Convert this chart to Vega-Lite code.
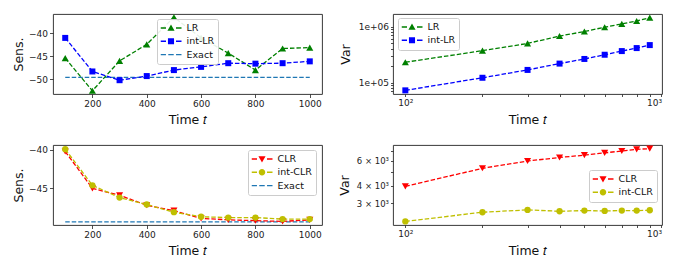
{
  "$schema": "https://vega.github.io/schema/vega-lite/v6.json",
  "background": "white",
  "padding": {"left": 11, "top": 13, "right": 5, "bottom": 5},
  "config": {
    "font": "DejaVu Sans",
    "view": {"stroke": "#222", "strokeWidth": 0.9},
    "axis": {"grid": false, "domain": false, "tickColor": "#222", "tickSize": 3.5, "tickWidth": 0.8, "labelFontSize": 9, "labelColor": "#222", "labelPadding": 2, "titleFontSize": 12.5, "titleFontWeight": "normal", "titleColor": "#111", "labelFont": "DejaVu Sans", "titleFont": "DejaVu Sans"},
    "legend": {"labelFontSize": 9.5, "labelColor": "#111", "labelFont": "DejaVu Sans", "padding": 3.5, "rowPadding": 2.3, "clipHeight": 11, "fillColor": "rgba(255,255,255,0.9)", "strokeColor": "#cccccc", "cornerRadius": 2, "symbolSize": 441, "symbolStrokeWidth": 0, "symbolOpacity": 1, "labelOffset": 5},
    "line": {"strokeDash": [4.5, 2], "strokeWidth": 1.3},
    "point": {"filled": true, "opacity": 1}
  },
  "datasets": {
    "sens1": [
      {"t": 100, "series": "LR", "value": -45.4}, {"t": 200, "series": "LR", "value": -52.5}, {"t": 300, "series": "LR", "value": -46.0}, {"t": 400, "series": "LR", "value": -42.4}, {"t": 500, "series": "LR", "value": -36.5}, {"t": 600, "series": "LR", "value": -41.0}, {"t": 700, "series": "LR", "value": -44.3}, {"t": 800, "series": "LR", "value": -48.0}, {"t": 900, "series": "LR", "value": -43.3}, {"t": 1000, "series": "LR", "value": -43.1},
      {"t": 100, "series": "int-LR", "value": -41.0}, {"t": 200, "series": "int-LR", "value": -48.3}, {"t": 300, "series": "int-LR", "value": -50.2}, {"t": 400, "series": "int-LR", "value": -49.3}, {"t": 500, "series": "int-LR", "value": -48.0}, {"t": 600, "series": "int-LR", "value": -47.3}, {"t": 700, "series": "int-LR", "value": -46.5}, {"t": 800, "series": "int-LR", "value": -46.6}, {"t": 900, "series": "int-LR", "value": -46.5}, {"t": 1000, "series": "int-LR", "value": -46.1},
      {"t": 100, "series": "Exact", "value": -49.6}, {"t": 1000, "series": "Exact", "value": -49.6}
    ],
    "var1": [
      {"t": 100, "series": "LR", "value": 231700}, {"t": 200, "series": "LR", "value": 372000}, {"t": 300, "series": "LR", "value": 501000}, {"t": 400, "series": "LR", "value": 678000}, {"t": 500, "series": "LR", "value": 816000}, {"t": 600, "series": "LR", "value": 975000}, {"t": 700, "series": "LR", "value": 1116000}, {"t": 800, "series": "LR", "value": 1260000}, {"t": 900, "series": "LR", "value": 1440000},
      {"t": 100, "series": "int-LR", "value": 73100}, {"t": 200, "series": "int-LR", "value": 122500}, {"t": 300, "series": "int-LR", "value": 169000}, {"t": 400, "series": "int-LR", "value": 219000}, {"t": 500, "series": "int-LR", "value": 265000}, {"t": 600, "series": "int-LR", "value": 315000}, {"t": 700, "series": "int-LR", "value": 366000}, {"t": 800, "series": "int-LR", "value": 414000}, {"t": 900, "series": "int-LR", "value": 468000}
    ],
    "sens2": [
      {"t": 100, "series": "CLR", "value": -40.2}, {"t": 200, "series": "CLR", "value": -45.0}, {"t": 300, "series": "CLR", "value": -45.9}, {"t": 400, "series": "CLR", "value": -47.2}, {"t": 500, "series": "CLR", "value": -47.9}, {"t": 600, "series": "CLR", "value": -48.9}, {"t": 700, "series": "CLR", "value": -49.1}, {"t": 800, "series": "CLR", "value": -49.2}, {"t": 900, "series": "CLR", "value": -49.3}, {"t": 1000, "series": "CLR", "value": -49.1},
      {"t": 100, "series": "int-CLR", "value": -39.9}, {"t": 200, "series": "int-CLR", "value": -44.6}, {"t": 300, "series": "int-CLR", "value": -46.2}, {"t": 400, "series": "int-CLR", "value": -47.1}, {"t": 500, "series": "int-CLR", "value": -48.1}, {"t": 600, "series": "int-CLR", "value": -48.7}, {"t": 700, "series": "int-CLR", "value": -48.8}, {"t": 800, "series": "int-CLR", "value": -48.8}, {"t": 900, "series": "int-CLR", "value": -49.0}, {"t": 1000, "series": "int-CLR", "value": -49.0},
      {"t": 100, "series": "Exact", "value": -49.35}, {"t": 1000, "series": "Exact", "value": -49.35}
    ],
    "var2": [
      {"t": 100, "series": "CLR", "value": 3955}, {"t": 200, "series": "CLR", "value": 5305}, {"t": 300, "series": "CLR", "value": 5970}, {"t": 400, "series": "CLR", "value": 6325}, {"t": 500, "series": "CLR", "value": 6565}, {"t": 600, "series": "CLR", "value": 6815}, {"t": 700, "series": "CLR", "value": 7030}, {"t": 800, "series": "CLR", "value": 7220}, {"t": 900, "series": "CLR", "value": 7300},
      {"t": 100, "series": "int-CLR", "value": 2240}, {"t": 200, "series": "int-CLR", "value": 2600}, {"t": 300, "series": "int-CLR", "value": 2700}, {"t": 400, "series": "int-CLR", "value": 2640}, {"t": 500, "series": "int-CLR", "value": 2670}, {"t": 600, "series": "int-CLR", "value": 2655}, {"t": 700, "series": "int-CLR", "value": 2670}, {"t": 800, "series": "int-CLR", "value": 2670}, {"t": 900, "series": "int-CLR", "value": 2685}
    ]
  },
  "columns": 2,
  "spacing": {"row": 51, "column": 71},
  "bounds": "flush",
  "resolve": {"scale": {"color": "independent", "shape": "independent"}, "legend": {"color": "independent", "shape": "independent"}},
  "concat": [
    {
      "width": 269, "height": 80,
      "data": {"name": "sens1"},
      "encoding": {
        "x": {"field": "t", "type": "quantitative", "scale": {"domain": [55, 1045], "nice": false, "zero": false}, "axis": {"values": [200, 400, 600, 800, 1000], "format": "d", "title": "Time 𝑡", "titleX": 134.5, "titleY": 25, "titleBaseline": "middle"}},
        "y": {"field": "value", "type": "quantitative", "scale": {"domain": [-53.2, -35.8], "nice": false, "zero": false}, "axis": {"values": [-50, -45, -40], "title": "Sens.", "titleX": -35, "titleY": 40, "titleBaseline": "middle"}}
      },
      "layer": [
        {"transform": [{"filter": "datum.series == 'Exact'"}], "mark": {"type": "line", "color": "#1f77b4"}},
        {"transform": [{"filter": "datum.series == 'LR'"}], "mark": {"type": "line", "color": "green"}},
        {"transform": [{"filter": "datum.series == 'int-LR'"}], "mark": {"type": "line", "color": "blue"}},
        {"transform": [{"filter": "datum.series == 'LR'"}], "mark": {"type": "point", "shape": "triangle-up", "size": 50, "color": "green"}},
        {"transform": [{"filter": "datum.series == 'int-LR'"}], "mark": {"type": "point", "shape": "square", "size": 36, "color": "blue"}},
        {"transform": [{"filter": "datum.t < 0"}], "mark": {"type": "point"},
         "encoding": {
           "color": {"field": "series", "type": "nominal", "scale": {"domain": ["LR", "int-LR", "Exact"], "range": ["green", "blue", "#1f77b4"]}, "legend": {"orient": "none", "legendX": 104, "legendY": 5, "title": null}},
           "shape": {"field": "series", "type": "nominal", "scale": {"domain": ["LR", "int-LR", "Exact"], "range": ["M-1,-0.065H-0.476V0.065H-1Z M0.476,-0.065H1V0.065H0.476Z M0,-0.33L0.34,0.26L-0.34,0.26Z", "M-1,-0.065H-0.476V0.065H-1Z M0.476,-0.065H1V0.065H0.476Z M-0.29,-0.29H0.29V0.29H-0.29Z", "M-1,-0.065H-0.48V0.065H-1Z M-0.26,-0.065H0.26V0.065H-0.26Z M0.48,-0.065H1V0.065H0.48Z"]}, "legend": {"orient": "none", "legendX": 104, "legendY": 5, "title": null}}
         }}
      ]
    },
    {
      "width": 269, "height": 80,
      "data": {"name": "var1"},
      "encoding": {
        "x": {"field": "t", "type": "quantitative", "scale": {"type": "log", "domain": [89.5, 1004.6], "nice": false}, "axis": {"values": [100, 200, 300, 400, 500, 600, 700, 800, 900, 1000], "labelExpr": "datum.value == 100 ? '10²' : datum.value == 1000 ? '10³' : ''", "tickSize": 2.5, "title": "Time 𝑡", "titleX": 134.5, "titleY": 25, "titleBaseline": "middle"}},
        "y": {"field": "value", "type": "quantitative", "scale": {"type": "log", "domain": [62950, 1675000], "nice": false}, "axis": {"values": [70000, 80000, 90000, 100000, 200000, 300000, 400000, 500000, 600000, 700000, 800000, 900000, 1000000], "labelExpr": "datum.value == 100000 ? '1e+05' : datum.value == 1000000 ? '1e+06' : ''", "tickSize": 2.5, "title": "Var", "titleX": -48, "titleY": 40, "titleBaseline": "middle"}}
      },
      "layer": [
        {"transform": [{"filter": "datum.series == 'LR'"}], "mark": {"type": "line", "color": "green"}},
        {"transform": [{"filter": "datum.series == 'int-LR'"}], "mark": {"type": "line", "color": "blue"}},
        {"transform": [{"filter": "datum.series == 'LR'"}], "mark": {"type": "point", "shape": "triangle-up", "size": 50, "color": "green"}},
        {"transform": [{"filter": "datum.series == 'int-LR'"}], "mark": {"type": "point", "shape": "square", "size": 36, "color": "blue"}},
        {"transform": [{"filter": "datum.t < 0"}], "mark": {"type": "point"},
         "encoding": {
           "color": {"field": "series", "type": "nominal", "scale": {"domain": ["LR", "int-LR"], "range": ["green", "blue"]}, "legend": {"orient": "none", "legendX": 5, "legendY": 4, "title": null}},
           "shape": {"field": "series", "type": "nominal", "scale": {"domain": ["LR", "int-LR"], "range": ["M-1,-0.065H-0.476V0.065H-1Z M0.476,-0.065H1V0.065H0.476Z M0,-0.33L0.34,0.26L-0.34,0.26Z", "M-1,-0.065H-0.476V0.065H-1Z M0.476,-0.065H1V0.065H0.476Z M-0.29,-0.29H0.29V0.29H-0.29Z"]}, "legend": {"orient": "none", "legendX": 5, "legendY": 4, "title": null}}
         }}
      ]
    },
    {
      "width": 269, "height": 80,
      "data": {"name": "sens2"},
      "encoding": {
        "x": {"field": "t", "type": "quantitative", "scale": {"domain": [55, 1045], "nice": false, "zero": false}, "axis": {"values": [200, 400, 600, 800, 1000], "format": "d", "title": "Time 𝑡", "titleX": 134.5, "titleY": 25, "titleBaseline": "middle"}},
        "y": {"field": "value", "type": "quantitative", "scale": {"domain": [-49.77, -39.35], "nice": false, "zero": false}, "axis": {"values": [-45, -40], "title": "Sens.", "titleX": -35, "titleY": 40, "titleBaseline": "middle"}}
      },
      "layer": [
        {"transform": [{"filter": "datum.series == 'Exact'"}], "mark": {"type": "line", "color": "#1f77b4"}},
        {"transform": [{"filter": "datum.series == 'CLR'"}], "mark": {"type": "line", "color": "red"}},
        {"transform": [{"filter": "datum.series == 'int-CLR'"}], "mark": {"type": "line", "color": "#bfbf00"}},
        {"transform": [{"filter": "datum.series == 'CLR'"}], "mark": {"type": "point", "shape": "triangle-down", "size": 50, "color": "red"}},
        {"transform": [{"filter": "datum.series == 'int-CLR'"}], "mark": {"type": "point", "shape": "circle", "size": 40, "color": "#bfbf00"}},
        {"transform": [{"filter": "datum.t < 0"}], "mark": {"type": "point"},
         "encoding": {
           "color": {"field": "series", "type": "nominal", "scale": {"domain": ["CLR", "int-CLR", "Exact"], "range": ["red", "#bfbf00", "#1f77b4"]}, "legend": {"orient": "none", "legendX": 195, "legendY": 5, "title": null}},
           "shape": {"field": "series", "type": "nominal", "scale": {"domain": ["CLR", "int-CLR", "Exact"], "range": ["M-1,-0.065H-0.476V0.065H-1Z M0.476,-0.065H1V0.065H0.476Z M0,0.33L0.34,-0.26L-0.34,-0.26Z", "M-1,-0.065H-0.476V0.065H-1Z M0.476,-0.065H1V0.065H0.476Z M-0.31,0A0.31,0.31 0 1,0 0.31,0A0.31,0.31 0 1,0 -0.31,0Z", "M-1,-0.065H-0.48V0.065H-1Z M-0.26,-0.065H0.26V0.065H-0.26Z M0.48,-0.065H1V0.065H0.48Z"]}, "legend": {"orient": "none", "legendX": 195, "legendY": 5, "title": null}}
         }}
      ]
    },
    {
      "width": 269, "height": 80,
      "data": {"name": "var2"},
      "encoding": {
        "x": {"field": "t", "type": "quantitative", "scale": {"type": "log", "domain": [89.5, 1004.6], "nice": false}, "axis": {"values": [100, 200, 300, 400, 500, 600, 700, 800, 900, 1000], "labelExpr": "datum.value == 100 ? '10²' : datum.value == 1000 ? '10³' : ''", "tickSize": 2.5, "title": "Time 𝑡", "titleX": 134.5, "titleY": 25, "titleBaseline": "middle"}},
        "y": {"field": "value", "type": "quantitative", "scale": {"type": "log", "domain": [2113, 7745], "nice": false}, "axis": {"values": [3000, 4000, 5000, 6000, 7000], "labelExpr": "datum.value == 3000 ? '3 × 10³' : datum.value == 4000 ? '4 × 10³' : datum.value == 6000 ? '6 × 10³' : ''", "tickSize": 2.5, "labelFontSize": 8.5, "title": "Var", "titleX": -49, "titleY": 40, "titleBaseline": "middle"}}
      },
      "layer": [
        {"transform": [{"filter": "datum.series == 'CLR'"}], "mark": {"type": "line", "color": "red"}},
        {"transform": [{"filter": "datum.series == 'int-CLR'"}], "mark": {"type": "line", "color": "#bfbf00"}},
        {"transform": [{"filter": "datum.series == 'CLR'"}], "mark": {"type": "point", "shape": "triangle-down", "size": 50, "color": "red"}},
        {"transform": [{"filter": "datum.series == 'int-CLR'"}], "mark": {"type": "point", "shape": "circle", "size": 40, "color": "#bfbf00"}},
        {"transform": [{"filter": "datum.t < 0"}], "mark": {"type": "point"},
         "encoding": {
           "color": {"field": "series", "type": "nominal", "scale": {"domain": ["CLR", "int-CLR"], "range": ["red", "#bfbf00"]}, "legend": {"orient": "none", "legendX": 196, "legendY": 25, "title": null}},
           "shape": {"field": "series", "type": "nominal", "scale": {"domain": ["CLR", "int-CLR"], "range": ["M-1,-0.065H-0.476V0.065H-1Z M0.476,-0.065H1V0.065H0.476Z M0,0.33L0.34,-0.26L-0.34,-0.26Z", "M-1,-0.065H-0.476V0.065H-1Z M0.476,-0.065H1V0.065H0.476Z M-0.31,0A0.31,0.31 0 1,0 0.31,0A0.31,0.31 0 1,0 -0.31,0Z"]}, "legend": {"orient": "none", "legendX": 196, "legendY": 25, "title": null}}
         }}
      ]
    }
  ]
}
